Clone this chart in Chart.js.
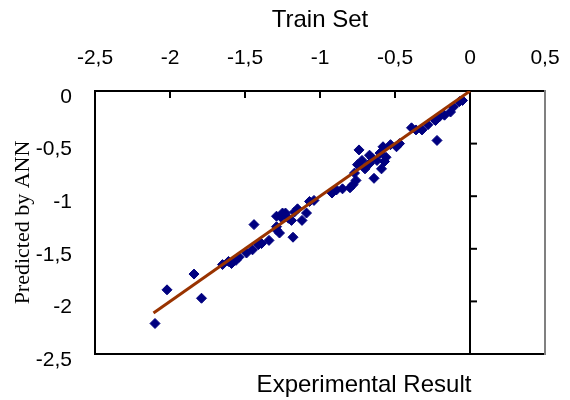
<!DOCTYPE html>
<html>
<head>
<meta charset="utf-8">
<script src="https://cdn.jsdelivr.net/npm/chart.js@4/dist/chart.umd.min.js"></script>
<style>
	body { margin: 0; background: #fff; }
	#wrap { width: 570px; height: 400px; }
</style>
</head>
<body>
<div id="wrap"><canvas id="trainChart"></canvas></div>
<script>
var expValues = [-2.10, -2.02, -1.84, -1.79, -1.65, -1.61, -1.56, -1.59, -1.49, -1.45,
	-1.41, -1.39, -1.44, -1.29, -1.27, -1.29, -1.29, -1.26, -1.23, -1.21,
	-1.17, -1.19, -1.18, -1.25, -1.15, -1.09, -1.12, -1.07, -1.04, -0.92,
	-0.89, -0.85, -0.78, -0.76, -0.77, -0.75, -0.74, -0.70, -0.67, -0.64,
	-0.65, -0.60, -0.59, -0.58, -0.56, -0.57, -0.53, -0.49, -0.47, -0.36,
	-0.32, -0.22, -0.39, -0.28, -0.23, -0.20, -0.17, -0.13, -0.11, -0.07,
	-0.05, -0.67, -0.72, -0.62, -0.80, -1.54, -1.34];
var annValues = [-2.21, -1.89, -1.74, -1.97, -1.65, -1.62, -1.61, -1.64, -1.54, -1.51,
	-1.46, -1.45, -1.27, -1.32, -1.35, -1.29, -1.19, -1.20, -1.16, -1.21,
	-1.15, -1.23, -1.39, -1.16, -1.12, -1.16, -1.23, -1.05, -1.04, -0.97,
	-0.94, -0.93, -0.89, -0.85, -0.78, -0.70, -0.56, -0.74, -0.69, -0.83,
	-0.64, -0.59, -0.74, -0.53, -0.63, -0.67, -0.51, -0.53, -0.50, -0.37,
	-0.37, -0.47, -0.35, -0.32, -0.28, -0.24, -0.23, -0.20, -0.15, -0.10,
	-0.09, -0.61, -0.66, -0.66, -0.92, -1.58, -1.42];
// fitted line end points
var fitX = [-2.11, 0];
var fitY = [-2.11, 0];
var xTicks = [-2.5, -2, -1.5, -1, -0.5, 0, 0.5];
var yTicks = [0, -0.5, -1, -1.5, -2, -2.5];

var sans = '"Liberation Sans", Arial, sans-serif';
var serif = '"Liberation Serif", "Times New Roman", serif';

function commaLabel(v) {
	return String(v).replace('.', ',');
}

// box edges, the zero axis and its little ticks
var framePlugin = {
	id: 'frame',
	beforeDatasetsDraw: function(chart) {
		var ctx = chart.ctx, a = chart.chartArea;
		var xs = chart.scales.x, ys = chart.scales.y;
		function seg(x1, y1, x2, y2) {
			ctx.beginPath(); ctx.moveTo(x1, y1); ctx.lineTo(x2, y2); ctx.stroke();
		}
		ctx.save();
		ctx.lineWidth = 2;
		ctx.strokeStyle = '#000';
		seg(a.left - 1, a.bottom, a.right, a.bottom);
		xTicks.forEach(function(v) {
			var px = xs.getPixelForValue(v);
			seg(px, a.top, px, a.top + 7);
		});
		var x0 = xs.getPixelForValue(0);
		seg(x0, a.top, x0, a.bottom + 1);
		yTicks.forEach(function(v) {
			var py = ys.getPixelForValue(v);
			seg(x0, py, x0 + 7, py);
		});
		ctx.strokeStyle = '#808080';
		seg(a.right, a.top - 1, a.right, a.bottom + 1);
		ctx.restore();
	},
	afterDraw: function(chart) {
		var ctx = chart.ctx, a = chart.chartArea;
		ctx.save();
		ctx.fillStyle = '#000';
		ctx.font = '24px ' + sans;
		ctx.textAlign = 'center';
		ctx.textBaseline = 'middle';
		ctx.fillText('Experimental Result', (a.left + a.right) / 2 + 44, 385);
		ctx.restore();
	}
};

Chart.defaults.color = '#000';

var points = expValues.map(function(v, i) { return { x: v, y: annValues[i] }; });
var fitLine = fitX.map(function(v, i) { return { x: v, y: fitY[i] }; });

new Chart(document.getElementById('trainChart'), {
	type: 'scatter',
	data: {
		datasets: [{
			label: 'fit',
			data: fitLine,
			showLine: true,
			borderColor: '#993300',
			borderWidth: 3,
			pointRadius: 0,
			order: 0
		}, {
			label: 'Train Set',
			data: points,
			pointStyle: 'rectRot',
			pointRadius: 5,
			backgroundColor: '#000080',
			borderColor: '#000080',
			borderWidth: 1,
			order: 1
		}]
	},
	options: {
		responsive: true,
		maintainAspectRatio: false,
		animation: false,
		layout: { padding: { left: 0, top: 0, right: 25, bottom: 46 } },
		plugins: {
			legend: { display: false },
			tooltip: { enabled: false }
		},
		scales: {
			x: {
				position: 'top',
				min: -2.5,
				max: 0.5,
				afterFit: function(s) { s.height = 91; s.paddingLeft = 0; s.paddingRight = 0; },
				afterBuildTicks: function(s) { s.ticks = xTicks.map(function(v) { return { value: v }; }); },
				ticks: { font: { family: sans, size: 21 }, padding: 20, callback: commaLabel, maxRotation: 0 },
				grid: { display: false, drawTicks: false },
				border: { display: true, color: '#000', width: 2 },
				title: { display: true, text: 'Train Set', font: { family: sans, size: 24 }, padding: { top: 6, bottom: 0 } }
			},
			y: {
				min: -2.5,
				max: 0,
				afterFit: function(s) { s.width = 95; s.paddingTop = 0; s.paddingBottom = 0; },
				afterBuildTicks: function(s) { s.ticks = yTicks.map(function(v) { return { value: v }; }); },
				ticks: { font: { family: sans, size: 21 }, padding: 23, labelOffset: 6, callback: commaLabel },
				grid: { display: false, drawTicks: false },
				border: { display: true, color: '#000', width: 2 },
				title: { display: true, text: 'Predicted by ANN', font: { family: serif, size: 22 }, padding: { top: 10, bottom: 0 } }
			}
		}
	},
	plugins: [framePlugin]
});
</script>
</body>
</html>
